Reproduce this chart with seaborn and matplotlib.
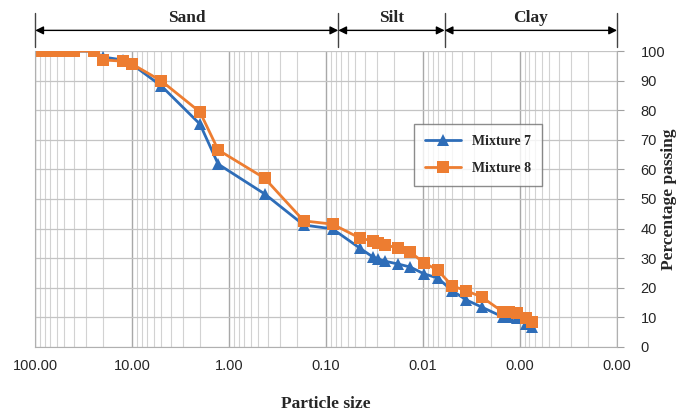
import numpy as np
import pandas as pd
import matplotlib
matplotlib.use("Agg")
import matplotlib.pyplot as plt
import matplotlib.transforms as mtransforms
from matplotlib.ticker import FuncFormatter, LogLocator, MultipleLocator, NullFormatter
import seaborn as sns

# particle size (mm) shared by both mixtures
sizes = [100, 80, 63, 50, 40, 25, 20, 12.5, 10, 5, 2, 1.3, 0.43, 0.17, 0.086,
         0.045, 0.033, 0.029, 0.025, 0.018, 0.0136, 0.0098, 0.0071, 0.005,
         0.0036, 0.0025, 0.0015, 0.0013, 0.00107, 0.00087, 0.00076]
mix7 = [100, 100, 100, 100, 100, 100, 98, 97, 95.5, 88.2, 75.3, 61.8, 51.7, 41.2, 39.9,
        33.4, 30.4, 29.7, 29.0, 28.0, 27.0, 24.7, 23.3, 19.0,
        15.9, 13.5, 10.1, 10.0, 9.8, 7.8, 6.8]
mix8 = [100, 100, 100, 100, 100, 100, 97, 96.6, 95.6, 89.9, 79.4, 66.6, 57.0, 42.6, 41.5,
        36.8, 35.8, 35.1, 34.5, 33.4, 32.1, 28.4, 26.0, 20.6,
        19.0, 16.9, 11.8, 11.8, 11.5, 9.8, 8.4]
series = ['Mixture 7', 'Mixture 8']
x_ticks = [100, 10, 1, 0.1, 0.01, 0.001, 0.0001]

# soil classes on top: name, coarse limit, fine limit
zones = ['Sand', 'Silt', 'Clay']
zone_edges = [100, 0.075, 0.006, 0.0001]

df = pd.concat([
    pd.DataFrame({'size': sizes, 'passing': mix7, 'mix': series[0]}),
    pd.DataFrame({'size': sizes, 'passing': mix8, 'mix': series[1]}),
])

sns.set_style("white")
plt.rcParams['font.family'] = ['Liberation Sans', 'DejaVu Sans']

fig = plt.figure(figsize=(6.91, 4.12), dpi=100)
ax = fig.add_axes([0.051, 0.158, 0.842, 0.718])

sns.lineplot(data=df, x='size', y='passing', hue='mix', style='mix',
             palette=['#2E6DB8', '#ED7D31'], markers=['^', 's'], dashes=False,
             estimator=None, sort=False, linewidth=2, markersize=8,
             markeredgewidth=0, ax=ax)

ax.set_xscale('log')
ax.set_xlim(100, 0.0001)
ax.set_ylim(0, 100)
ax.set_xticks(x_ticks)
ax.xaxis.set_minor_locator(LogLocator(base=10, subs=np.arange(2, 10), numticks=20))
ax.xaxis.set_major_formatter(FuncFormatter(lambda v, p: f"{v:.2f}"))
ax.xaxis.set_minor_formatter(NullFormatter())
ax.yaxis.set_major_locator(MultipleLocator(10))
ax.yaxis.tick_right()
ax.yaxis.set_label_position('right')

ax.grid(which='major', axis='x', color='#A8A8A8', linewidth=1.0)
ax.grid(which='minor', axis='x', color='#D2D2D2', linewidth=0.8)
ax.grid(which='major', axis='y', color='#C4C4C4', linewidth=0.9)
ax.tick_params(axis='x', which='major', length=5, color='#A0A0A0', labelsize=10.5, pad=4)
ax.tick_params(axis='x', which='minor', length=0)
ax.tick_params(axis='y', length=5, color='#A0A0A0', labelsize=10.5, pad=12)
for s in ax.spines.values():
    s.set_color('#B0B0B0')
ax.spines['top'].set_visible(False)

ax.set_xlabel('Particle size', family='Liberation Serif', fontweight='bold',
              fontsize=12.5, labelpad=16)
ax.set_ylabel('Percentage passing', family='Liberation Serif', fontweight='bold',
              fontsize=12.5)
ax.yaxis.set_label_coords(1.076, 0.5)

leg = ax.legend(loc='center', bbox_to_anchor=(0.761, 0.649), frameon=True,
                prop={'family': 'Liberation Serif', 'weight': 'bold', 'size': 10},
                handlelength=2.6, borderpad=0.8, labelspacing=1.0, fancybox=False)
leg.get_frame().set_edgecolor('#707070')
leg.get_frame().set_linewidth(1.0)

# Sand / Silt / Clay arrows above the plot
trans = mtransforms.blended_transform_factory(ax.transData, ax.transAxes)
for e in zone_edges:
    ax.plot([e, e], [1.015, 1.13], transform=trans, color='#444444', lw=1.0, clip_on=False)
for i, name in enumerate(zones):
    a, b = zone_edges[i], zone_edges[i + 1]
    ax.annotate('', xy=(b, 1.07), xytext=(a, 1.07), xycoords=trans, textcoords=trans,
                arrowprops=dict(arrowstyle='<|-|>', color='black', lw=1.0,
                                shrinkA=0, shrinkB=0, mutation_scale=12))
    ax.text(np.sqrt(a * b), 1.085, name, transform=trans, ha='center', va='bottom',
            family='Liberation Serif', fontweight='bold', fontsize=12.5)

fig.savefig('out.png', dpi=100)
